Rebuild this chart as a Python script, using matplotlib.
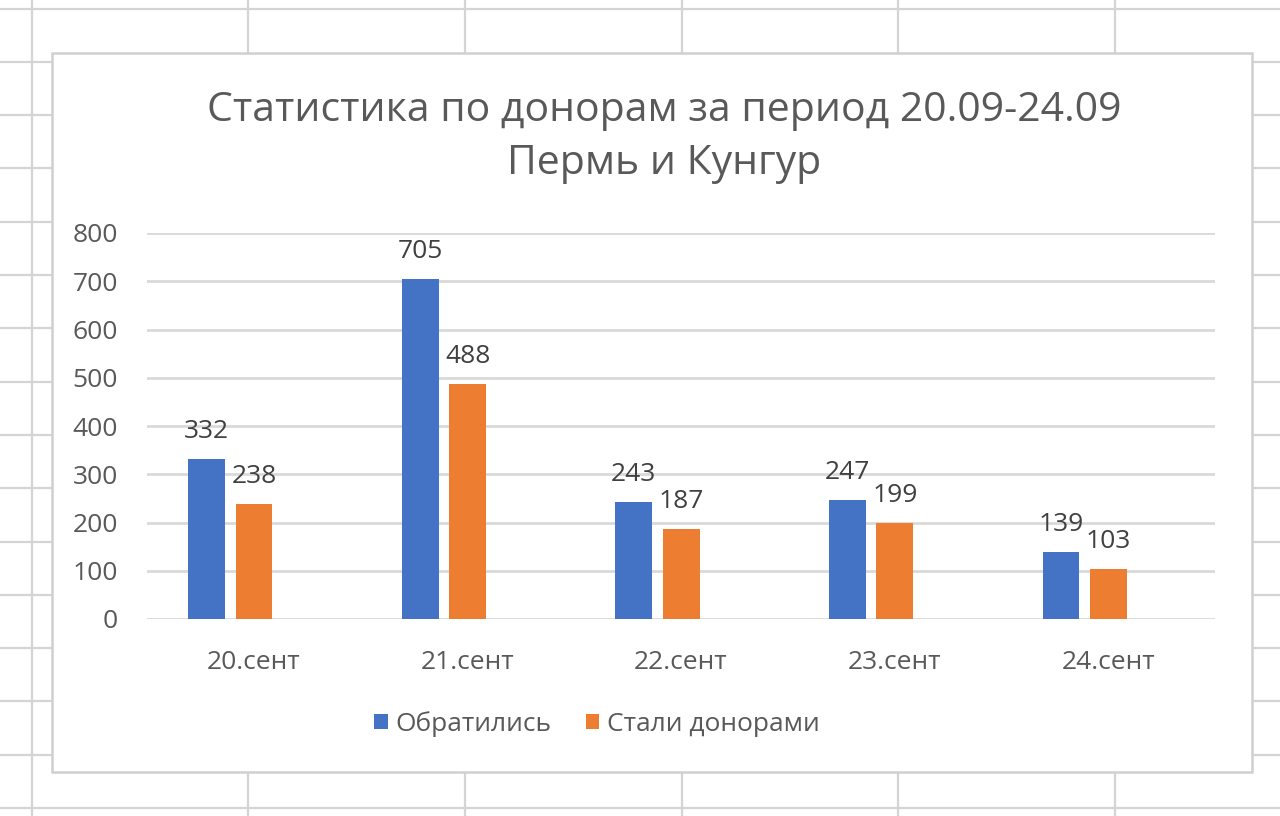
import matplotlib
matplotlib.use("Agg")
import matplotlib.pyplot as plt
from matplotlib.patches import Rectangle
import numpy as np

plt.rcParams['font.family'] = ['Open Sans', 'DejaVu Sans']

categories = ['20.сент', '21.сент', '22.сент', '23.сент', '24.сент']
applied = [332, 705, 243, 247, 139]
donors = [238, 488, 187, 199, 103]
series_names = ['Обратились', 'Стали донорами']
title = 'Статистика по донорам за период 20.09-24.09\nПермь и Кунгур'
yticks = [0, 100, 200, 300, 400, 500, 600, 700, 800]

W, H = 1280, 816
fig = plt.figure(figsize=(W / 100, H / 100), dpi=100)
fig.patch.set_facecolor('white')

# background spreadsheet grid + chart box (pixel coordinates)
bg = fig.add_axes([0, 0, 1, 1], zorder=0)
bg.set_xlim(0, W)
bg.set_ylim(H, 0)
bg.axis('off')
cell_color = '#d4d4d4'
for xv in [32, 248, 465, 682, 898, 1115]:
    bg.plot([xv, xv], [0, H], color=cell_color, lw=1.6, solid_capstyle='butt')
for k in range(16):
    yv = 8.5 + 53.3 * k
    bg.plot([0, W], [yv, yv], color=cell_color, lw=1.6, solid_capstyle='butt')
bg.add_patch(Rectangle((52, 53), 1200, 719, facecolor='white',
                       edgecolor='#d0d0d0', lw=1.8, zorder=5))

# main chart axes
left, right = 147 / W, 1215 / W
bottom, top = 1 - 619 / H, 1 - 233 / H
ax = fig.add_axes([left, bottom, right - left, top - bottom], zorder=2)
ax.set_facecolor('none')

x = np.arange(len(categories)) + 0.5
bw = 0.173
blue, orange = '#4472C4', '#ED7D31'
b1 = ax.bar(x - 0.221, applied, width=bw, color=blue, zorder=3, label=series_names[0])
b2 = ax.bar(x + 0.001, donors, width=bw, color=orange, zorder=3, label=series_names[1])

fs = 19
for bars, vals in ((b1, applied), (b2, donors)):
    for r, v in zip(bars, vals):
        ax.annotate(str(v), (r.get_x() + r.get_width() / 2, v),
                    xytext=(0, 15), textcoords='offset points',
                    ha='center', va='baseline', fontsize=fs, color='#404040')

ax.set_xlim(0, len(categories))
ax.set_ylim(0, 800)
ax.set_yticks(yticks)
ax.set_yticklabels([str(t) for t in yticks])
ax.set_xticks(x)
ax.set_xticklabels(categories)
ax.tick_params(axis='y', length=0, pad=21, labelsize=fs, labelcolor='#595959')
ax.tick_params(axis='x', length=0, pad=22, labelsize=fs, labelcolor='#595959')
ax.grid(axis='y', color='#d9d9d9', lw=2)
ax.set_axisbelow(True)
for s in ax.spines.values():
    s.set_visible(False)

fig.text(664 / W, 1 - 137 / H, title, ha='center', va='center',
         fontsize=29.5, color='#595959', linespacing=1.42)

fig.legend(handles=[b1, b2], labels=series_names, loc='center',
           bbox_to_anchor=(597 / W, 1 - 724 / H), ncol=2, frameon=False,
           fontsize=fs, labelcolor='#595959', handlelength=0.5, handleheight=0.5,
           handletextpad=0.3, columnspacing=1.3)

fig.savefig('out.png', dpi=100)
